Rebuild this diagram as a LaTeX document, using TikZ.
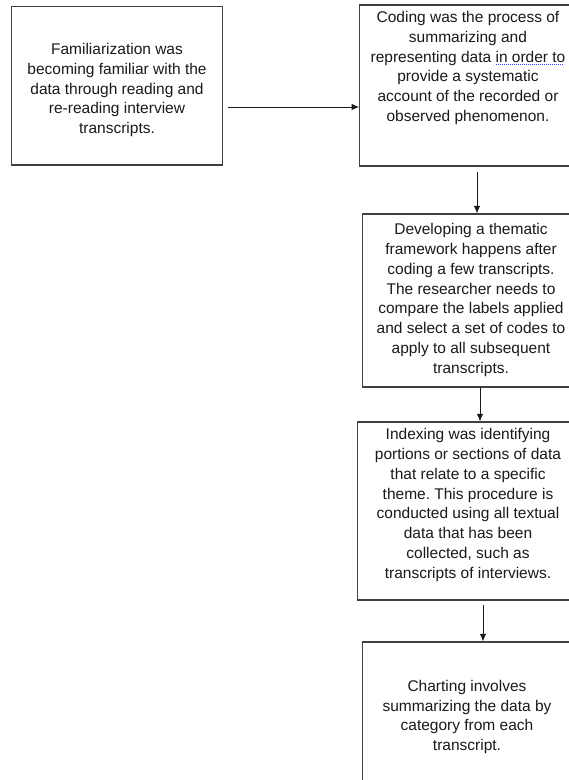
\documentclass[tikz,border=0pt]{standalone}
\usepackage{fontspec}
\setmainfont{Liberation Sans}
\usetikzlibrary{arrows.meta}
\frenchspacing
\definecolor{edge}{HTML}{404040}
\definecolor{ink}{HTML}{1A1A1A}
\definecolor{ulblue}{HTML}{4A4AD0}
\newcommand\myul[1]{\setbox0\hbox{#1}\rlap{\color{ulblue}\raisebox{-3pt}{\hbox to \wd0{\leaders\hbox to 2pt{\hss\rule{1pt}{0.9pt}\hss}\hfill}}}\box0}
\tikzset{
  box/.style={draw=edge, line width=1.2pt, fill=white, inner sep=0pt},
  txt/.style={inner sep=0pt, align=center, text=ink, font=\fontsize{15.5}{19.8}\selectfont},
  arr/.style={draw=ink, line width=0.9pt, -{Latex[length=7.5pt,width=6.5pt]}},
}
\begin{document}
\begin{tikzpicture}[x=1pt,y=1pt]
\useasboundingbox (0,0) rectangle (569,-780);
\clip (0,0) rectangle (569,-780);
\fill[white] (0,0) rectangle (569,-780);
% boxes
\node[box, minimum width=211.2pt, minimum height=158.5pt] (b1) at (117.1,-85.75) {};
\node[box, minimum width=218.3pt, minimum height=161pt] (b2) at (468.85,-85.5) {};
\node[box, minimum width=216.3pt, minimum height=173pt] (b3) at (470.85,-300.5) {};
\node[box, minimum width=220.3pt, minimum height=178pt] (b4) at (467.85,-511) {};
\node[box, minimum width=212.3pt, minimum height=158pt] (b5) at (468.85,-721) {};
% texts
\node[txt] (t1) at (117,-90) {Familiarization was\\becoming familiar with the\\data through reading and\\re-reading interview\\transcripts.};
\node[txt, anchor=north] (t2) at (468,-11) {Coding was the process of\\summarizing and\\representing data \myul{in order to}\\provide a systematic\\account of the recorded or\\observed phenomenon.};
\node[txt] (t3) at (471,-300) {Developing a thematic\\framework happens after\\coding a few transcripts.\\The researcher needs to\\compare the labels applied\\and select a set of codes to\\apply to all subsequent\\transcripts.};
\node[txt] (t4) at (468,-505) {Indexing was identifying\\portions or sections of data\\that relate to a specific\\theme. This procedure is\\conducted using all textual\\data that has been\\collected, such as\\transcripts of interviews.};
\node[txt] (t5) at (467,-717) {Charting involves\\summarizing the data by\\category from each\\transcript.};
% arrows
\coordinate (a1) at (228,-107);
\draw[arr] (a1) -- (a1 -| b2.west);
\coordinate (a2) at (477,-172);
\draw[arr] (a2) -- (a2 |- b3.north);
\coordinate (a3) at (480,-387);
\draw[arr] (a3) -- (a3 |- b4.north);
\coordinate (a4) at (483,-605);
\draw[arr] (a4) -- (a4 |- b5.north);
\end{tikzpicture}
\end{document}
